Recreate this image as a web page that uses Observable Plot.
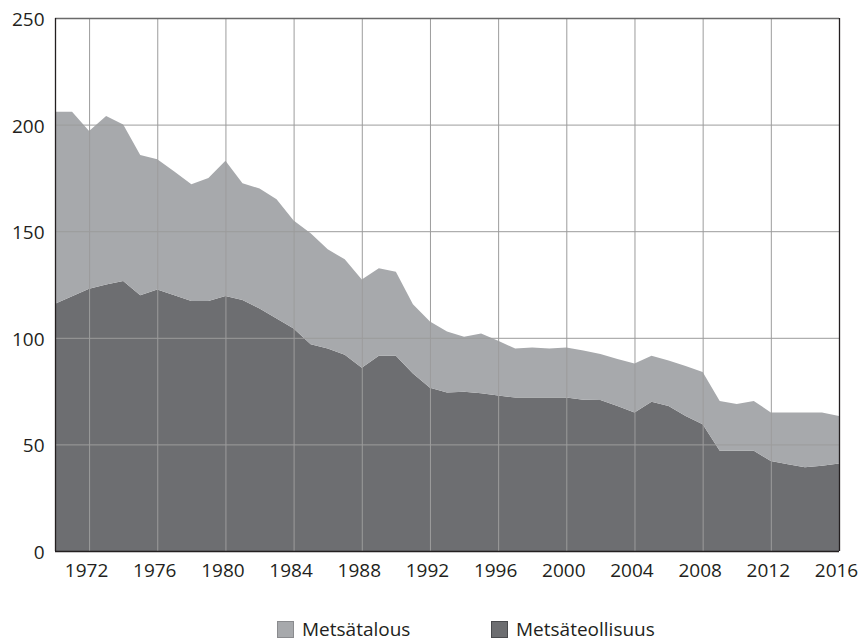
<!DOCTYPE html>
<html>
<head>
<meta charset="utf-8">
<script src="https://cdn.jsdelivr.net/npm/d3@7"></script>
<script src="https://cdn.jsdelivr.net/npm/@observablehq/plot@0.6"></script>
<style>
  html, body { margin: 0; padding: 0; background: #fff; }
  body { width: 859px; height: 643px; overflow: hidden; font-family: "Open Sans", sans-serif; }
  #chart svg { display: block; }
  #legend { position: relative; height: 38px; width: 859px; font-family: "Open Sans", sans-serif; font-size: 19px; color: #231f20; }
  .item { position: absolute; top: 14px; display: flex; align-items: center; height: 20px; line-height: 20px; }
  .sw { width: 17px; height: 17px; box-sizing: border-box; margin-right: 8px; }
</style>
</head>
<body>
<div id="chart"></div>
<div id="legend"></div>
<script>
const years = d3.range(1970, 2017);
const seriesNames = ["Metsäteollisuus", "Metsätalous"];
const seriesColors = ["#6d6e71", "#a7a9ac"];
const metsateollisuus = [
  116, 119.5, 123, 125, 126.6, 120, 122.7, 120, 117.3, 117.3,
  119.6, 117.7, 113.8, 109, 104.4, 97, 95, 92, 86, 91.6,
  91.6, 83.3, 76.6, 74.3, 74.7, 74, 72.9, 72, 72, 72,
  72, 71, 70.8, 68, 65, 70, 68, 63.3, 59.4, 47,
  47, 47, 42.2, 40.7, 39.3, 40, 41.1
];
const metsatalous = [
  90, 86.5, 74, 79, 73.4, 65.7, 61, 58, 54.7, 57.7,
  63.4, 54.8, 56.2, 56, 50.6, 52, 46.5, 44.8, 41.4, 41,
  39.4, 32.4, 31, 28.6, 25.8, 28, 25.7, 23, 23.5, 23,
  23.5, 23, 21.6, 22, 23, 21.6, 21.3, 23.5, 24.6, 23.4,
  22, 23.4, 22.8, 24.3, 25.7, 25, 22.2
];
const xTicks = [1972, 1976, 1980, 1984, 1988, 1992, 1996, 2000, 2004, 2008, 2012, 2016];
const yTicks = [0, 50, 100, 150, 200, 250];

const data = [];
years.forEach((y, i) => {
  data.push({year: y, series: seriesNames[0], value: metsateollisuus[i]});
  data.push({year: y, series: seriesNames[1], value: metsatalous[i]});
});

const chart = Plot.plot({
  width: 859,
  height: 605,
  marginLeft: 55,
  marginRight: 20,
  marginTop: 18,
  marginBottom: 54,
  style: {fontFamily: "Open Sans, sans-serif", fontSize: "19px", color: "#231f20", background: "#fff"},
  x: {domain: [1970, 2016]},
  y: {domain: [0, 250]},
  color: {domain: seriesNames, range: seriesColors},
  marks: [
    Plot.areaY(data, {x: "year", y: "value", fill: "series", order: seriesNames}),
    Plot.gridX(xTicks.filter(d => d < 2016), {stroke: "#9c9c9c", strokeOpacity: 1, strokeWidth: 1}),
    Plot.gridY(yTicks.filter(d => d > 0 && d < 250), {stroke: "#9c9c9c", strokeOpacity: 1, strokeWidth: 1}),
    Plot.ruleY([250], {stroke: "#6a6a6a", strokeWidth: 1.3}),
    Plot.ruleY([0], {stroke: "#231f20", strokeWidth: 1.3}),
    Plot.ruleX([1970], {stroke: "#231f20", strokeWidth: 1.3}),
    Plot.ruleX([2016], {stroke: "#231f20", strokeWidth: 1.3}),
    Plot.axisY({ticks: yTicks, tickSize: 0, tickPadding: 11, dy: 1.5, fontSize: 19, fill: "#231f20", label: null}),
    Plot.axisX({ticks: xTicks, tickSize: 0, tickPadding: 12, dx: -3, tickFormat: "d", fontSize: 19, fill: "#231f20", label: null})
  ]
});
document.getElementById("chart").appendChild(chart);

const legend = document.getElementById("legend");
const legendItems = [
  {name: seriesNames[1], color: seriesColors[1], border: "#8a8b8e", left: 277},
  {name: seriesNames[0], color: seriesColors[0], border: "#4a4b4e", left: 491}
];
legendItems.forEach(it => {
  const d = document.createElement("div");
  d.className = "item";
  d.style.left = it.left + "px";
  const s = document.createElement("span");
  s.className = "sw";
  s.style.background = it.color;
  s.style.border = "1px solid " + it.border;
  const t = document.createElement("span");
  t.textContent = it.name;
  d.appendChild(s);
  d.appendChild(t);
  legend.appendChild(d);
});
</script>
</body>
</html>
